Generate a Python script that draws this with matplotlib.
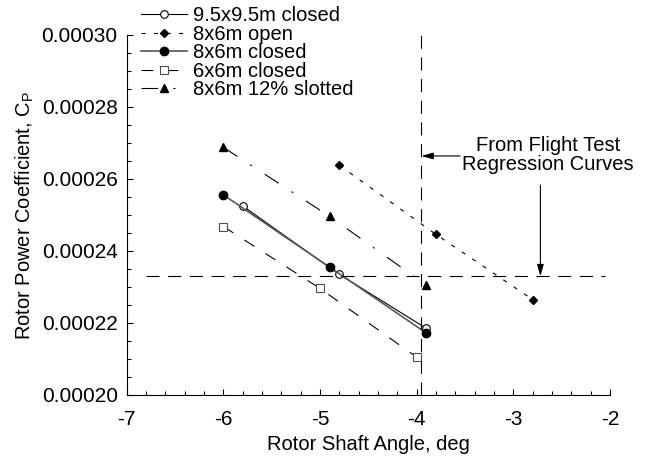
import matplotlib
matplotlib.use("Agg")
import matplotlib.pyplot as plt
from matplotlib.ticker import MultipleLocator, FormatStrFormatter

plt.rcParams['font.family'] = ['Liberation Sans', 'DejaVu Sans']
plt.rcParams['mathtext.fontset'] = 'custom'
plt.rcParams['mathtext.rm'] = 'Liberation Sans'
plt.rcParams['axes.unicode_minus'] = False
plt.rcParams['lines.scale_dashes'] = False

# Wind tunnel runs: shaft angle (deg) vs rotor power coefficient
angle_95_closed = [-5.8, -4.8, -3.9]
cp_95_closed = [0.0002525, 0.0002335, 0.0002185]

angle_86_open = [-4.8, -3.8, -2.8]
cp_86_open = [0.0002638, 0.0002446, 0.0002265]

angle_86_closed = [-6.0, -4.9, -3.9]
cp_86_closed = [0.0002556, 0.0002355, 0.0002172]

angle_66_closed = [-6.0, -5.0, -4.0]
cp_66_closed = [0.0002468, 0.0002296, 0.0002105]

angle_86_slotted = [-6.0, -4.9, -3.9]
cp_86_slotted = [0.0002688, 0.0002496, 0.0002305]

# Flight test regression reference values
flight_angle = -3.95
flight_cp = 0.000233

FS = 14.5

fig = plt.figure(figsize=(6.45, 4.58), dpi=100)
ax = fig.add_axes([0.1964, 0.1376, 0.7493, 0.786])

ax.plot(angle_95_closed, cp_95_closed, color='black', lw=0.8, marker='o',
        ms=5.5, mfc='white', mec='black', mew=0.8, label='9.5x9.5m closed')
ax.plot(angle_86_open, cp_86_open, color='black', lw=0.8, dashes=(3, 6),
        marker='D', ms=4.5, mfc='black', mec='black', label='8x6m open')
ax.plot(angle_86_closed, cp_86_closed, color='0.35', lw=1.2, marker='o',
        ms=6, mfc='black', mec='black', label='8x6m closed')
ax.plot(angle_66_closed, cp_66_closed, color='black', lw=0.8, dashes=(8.5, 9.5),
        marker='s', ms=5.5, mfc='white', mec='0.3', mew=0.8, label='6x6m closed')
ax.plot(angle_86_slotted, cp_86_slotted, color='black', lw=0.8,
        dashes=(12, 11, 1.5, 11), marker='^', ms=6, mfc='black', mec='black',
        label='8x6m 12% slotted')

# Reference lines from flight test
ax.axvline(flight_angle, color='black', lw=0.8, dashes=(9.4, 6.2))
ax.plot([-6.8, -2.05], [flight_cp, flight_cp], color='black', lw=0.8, dashes=(9.4, 6.2))

ax.text(-2.64, 0.0002667, 'From Flight Test\nRegression Curves', fontsize=FS,
        ha='center', va='center', linespacing=1.0)
ax.annotate('', xy=(flight_angle, 0.0002664), xytext=(-3.55, 0.0002664),
            arrowprops=dict(arrowstyle='-|>,head_length=0.7,head_width=0.2',
                            color='black', lw=0.8, shrinkA=0, shrinkB=0))
ax.annotate('', xy=(-2.72, flight_cp), xytext=(-2.72, 0.0002583),
            arrowprops=dict(arrowstyle='-|>,head_length=0.7,head_width=0.2',
                            color='black', lw=0.8, shrinkA=0, shrinkB=0))

ax.set_xlim(-7, -2)
ax.set_ylim(0.0002, 0.0003)
ax.xaxis.set_major_locator(MultipleLocator(1))
ax.xaxis.set_minor_locator(MultipleLocator(0.2))
ax.yaxis.set_major_locator(MultipleLocator(0.00002))
ax.yaxis.set_minor_locator(MultipleLocator(0.000005))
ax.xaxis.set_major_formatter(FormatStrFormatter('%d'))
ax.yaxis.set_major_formatter(FormatStrFormatter('%.5f'))
ax.tick_params(which='both', direction='in', width=0.8, labelsize=15)
ax.tick_params(which='major', length=4.5)
ax.tick_params(which='minor', length=3)
ax.tick_params(axis='y', pad=6.5)
ax.tick_params(axis='x', pad=11)

for side in ['top', 'right']:
    ax.spines[side].set_visible(False)
for side in ['left', 'bottom']:
    ax.spines[side].set_linewidth(0.8)

ax.set_xlabel('Rotor Shaft Angle, deg', fontsize=FS, labelpad=4)
ax.set_ylabel(r'Rotor Power Coefficient, C$_\mathregular{P}$', fontsize=FS, labelpad=4)

ax.legend(loc='upper left', bbox_to_anchor=(141 / 645, 1 - 6 / 458),
          bbox_transform=fig.transFigure, frameon=False, fontsize=FS,
          numpoints=1, handlelength=2.3, handletextpad=0.26,
          labelspacing=-0.02, borderpad=0, borderaxespad=0)

fig.savefig('out.png', dpi=100)
